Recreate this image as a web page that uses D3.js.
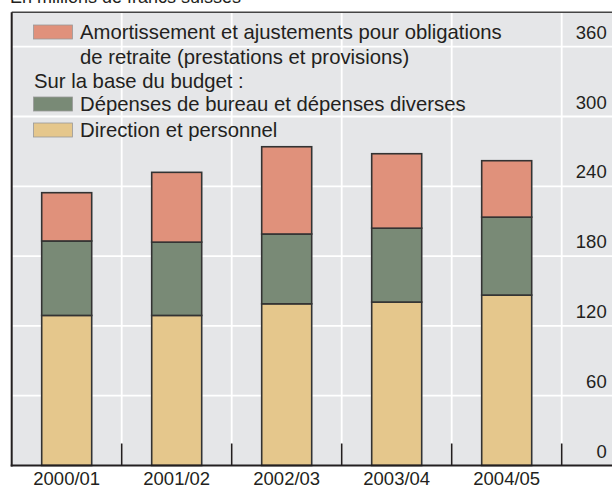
<!DOCTYPE html>
<html>
<head>
<meta charset="utf-8">
<script src="https://cdn.jsdelivr.net/npm/d3@7"></script>
<style>
  body { margin: 0; background: #fff; }
  svg { display: block; font-family: "Liberation Sans", Arial, sans-serif; }
  .lbl { fill: #231f20; }
</style>
</head>
<body>
<div id="chart"></div>
<script>
// data (millions CHF)
const years = ['2000/01', '2001/02', '2002/03', '2003/04', '2004/05'];
const direction = [129, 129, 139, 140.5, 146.5];   // Direction et personnel
const bureau = [64, 63, 60, 63.5, 67];              // Dépenses de bureau et dépenses diverses
const amort = [41.5, 60, 75, 64, 48.5];             // Amortissement et ajustements
const yTicks = [0, 60, 120, 180, 240, 300, 360];

const seriesKeys = ['direction', 'bureau', 'amort'];
const colors = { direction: '#e5c78c', bureau: '#798a76', amort: '#e0917b' };

const width = 612, height = 487;
const margin = { left: 11.7, top: 12.3, bandRight: 561.7, bottom: 465.5 };

const svg = d3.select('#chart').append('svg')
  .attr('width', width)
  .attr('height', height);

// background
svg.append('rect')
  .attr('x', margin.left).attr('y', margin.top)
  .attr('width', width - margin.left).attr('height', margin.bottom - margin.top)
  .attr('fill', '#e5e6e8');

const x = d3.scaleBand()
  .domain(years)
  .range([margin.left, margin.bandRight])
  .paddingInner(0).paddingOuter(0);

const y = d3.scaleLinear()
  .domain([0, 360])
  .range([margin.bottom, 46.7]);

// horizontal grid
svg.append('g')
  .selectAll('line')
  .data(yTicks.filter(d => d > 0))
  .enter().append('line')
    .attr('x1', margin.left).attr('x2', width)
    .attr('y1', d => y(d)).attr('y2', d => y(d))
    .attr('stroke', '#fff').attr('stroke-width', 1.8);

// vertical grid at category boundaries
const bounds = years.map(d => x(d) + x.bandwidth());
svg.append('g')
  .selectAll('line')
  .data(bounds)
  .enter().append('line')
    .attr('x1', d => d).attr('x2', d => d)
    .attr('y1', margin.top).attr('y2', margin.bottom)
    .attr('stroke', '#fff').attr('stroke-width', 1.8);

// stacked bars
const table = years.map((yr, i) => ({
  year: yr, direction: direction[i], bureau: bureau[i], amort: amort[i]
}));
const stacked = d3.stack().keys(seriesKeys)(table);
const barW = 50;

svg.append('g')
  .selectAll('g')
  .data(stacked)
  .enter().append('g')
    .attr('fill', d => colors[d.key])
  .selectAll('rect')
  .data(d => d)
  .enter().append('rect')
    .attr('x', d => x(d.data.year) + x.bandwidth() / 2 - barW / 2)
    .attr('width', barW)
    .attr('y', d => y(d[1]))
    .attr('height', d => y(d[0]) - y(d[1]))
    .attr('stroke', '#333')
    .attr('stroke-width', 1.6);

// bottom ticks at boundaries
svg.append('g')
  .selectAll('line')
  .data(bounds)
  .enter().append('line')
    .attr('x1', d => d).attr('x2', d => d)
    .attr('y1', margin.bottom - 22).attr('y2', margin.bottom)
    .attr('stroke', '#231f20').attr('stroke-width', 1.6);

// frame: top, left, bottom
svg.append('line')
  .attr('x1', margin.left).attr('x2', width)
  .attr('y1', margin.top).attr('y2', margin.top)
  .attr('stroke', '#444').attr('stroke-width', 1.6);
svg.append('line')
  .attr('x1', margin.left).attr('x2', margin.left)
  .attr('y1', margin.top).attr('y2', margin.bottom + 1)
  .attr('stroke', '#231f20').attr('stroke-width', 2);
svg.append('line')
  .attr('x1', margin.left - 1).attr('x2', width)
  .attr('y1', margin.bottom).attr('y2', margin.bottom)
  .attr('stroke', '#231f20').attr('stroke-width', 2);

// x labels
const xAxis = d3.axisBottom(x).tickSize(0).tickPadding(0);
const gx = svg.append('g')
  .attr('transform', 'translate(0,' + margin.bottom + ')')
  .call(xAxis);
gx.select('.domain').remove();
gx.selectAll('text')
  .attr('class', 'lbl')
  .attr('dy', null)
  .attr('y', 19)
  .style('font-size', '18.5px')
  .style('font-family', '"Liberation Sans", Arial, sans-serif');

// y labels
const yAxis = d3.axisLeft(y).tickValues(yTicks).tickSize(0).tickPadding(0);
const gy = svg.append('g')
  .attr('transform', 'translate(606.7,0)')
  .call(yAxis);
gy.select('.domain').remove();
gy.selectAll('text')
  .attr('class', 'lbl')
  .attr('dy', null)
  .attr('y', -8.5)
  .attr('x', 0)
  .attr('text-anchor', 'end')
  .style('font-size', '18.5px')
  .style('font-family', '"Liberation Sans", Arial, sans-serif');

// unit note (cut off at top)
svg.append('text')
  .attr('class', 'lbl')
  .attr('x', 10).attr('y', 3)
  .style('font-size', '18px')
  .text('En millions de francs suisses');

// legend
const legend = svg.append('g').style('font-size', '20.3px');
const legendRows = [
  { key: 'amort', text: 'Amortissement et ajustements pour obligations', y: 32 },
  { key: null, text: 'de retraite (prestations et provisions)', y: 56.5, x: 80 },
  { key: null, text: 'Sur la base du budget :', y: 81, x: 34 },
  { key: 'bureau', text: 'Dépenses de bureau et dépenses diverses', y: 104 },
  { key: 'direction', text: 'Direction et personnel', y: 130 }
];
legendRows.forEach(r => {
  if (r.key) {
    legend.append('rect')
      .attr('x', 33.5).attr('y', r.y - 7)
      .attr('width', 39).attr('height', 14)
      .attr('fill', colors[r.key])
      .attr('stroke', '#9a9a9a').attr('stroke-width', 0.8);
  }
  legend.append('text')
    .attr('class', 'lbl')
    .attr('x', r.x !== undefined ? r.x : 80)
    .attr('y', r.y + 7)
    .text(r.text);
});
</script>
</body>
</html>
